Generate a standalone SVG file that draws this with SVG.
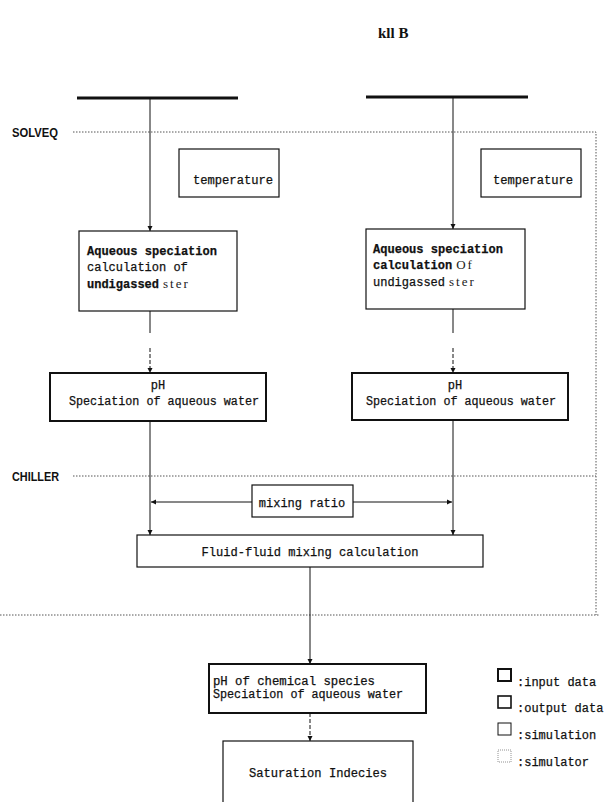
<svg xmlns="http://www.w3.org/2000/svg" width="604" height="802" viewBox="0 0 604 802">
<defs>
<marker id="ah" markerWidth="6" markerHeight="6" refX="5" refY="3" orient="auto" markerUnits="userSpaceOnUse">
<path d="M0,0.5 L5,3 L0,5.5 Z" fill="#111"/>
</marker>
</defs>
<style>
.t{font-family:"Liberation Mono","DejaVu Sans Mono",monospace;font-size:12px;fill:#111;stroke:#111;stroke-width:0.25}
.b{font-family:"Liberation Sans","DejaVu Sans",sans-serif;font-weight:bold;font-size:12px;fill:#111}
.s{font-family:"Liberation Serif","DejaVu Serif",serif;font-size:13px;fill:#222;stroke:none;letter-spacing:2px}
.box{fill:none;stroke:#111;stroke-width:1.2}
.thick{fill:none;stroke:#111;stroke-width:2}
.dot{fill:none;stroke:#555;stroke-width:1;stroke-dasharray:1.5 1.5}
.ln{fill:none;stroke:#111;stroke-width:1}
.bar{stroke:#111;stroke-width:3}
</style>
<text x="378" y="38" style="font-family:'Liberation Serif',serif;font-weight:bold;font-size:15px;fill:#111">kll B</text>
<g id="simulators">
<text class="b" x="12" y="137" textLength="46" lengthAdjust="spacingAndGlyphs">SOLVEQ</text>
<text class="b" x="12" y="481" textLength="47" lengthAdjust="spacingAndGlyphs">CHILLER</text>
<path class="dot" d="M73,132 H596 V615 M73,476 H596 M0,615 H600"/>
</g>
<g id="input-left">
<line class="bar" x1="77" y1="98" x2="238" y2="98"/>
</g>
<g id="input-right">
<line class="bar" x1="366" y1="97" x2="528" y2="97"/>
</g>
<g id="temp-left">
<rect class="box" x="179" y="149" width="100" height="48"/>
<text class="t" x="193" y="184" textLength="80" lengthAdjust="spacingAndGlyphs">temperature</text>
</g>
<g id="temp-right">
<rect class="box" x="481" y="149" width="100" height="48"/>
<text class="t" x="493" y="184" textLength="80" lengthAdjust="spacingAndGlyphs">temperature</text>
</g>
<g id="aq-left">
<rect class="box" x="79" y="231" width="158" height="80"/>
<text class="t" x="87" y="255" font-weight="bold" textLength="130" lengthAdjust="spacingAndGlyphs">Aqueous speciation</text>
<text class="t" x="87" y="271">calculation of</text>
<text class="t" x="87" y="288"><tspan font-weight="bold">undigassed</tspan><tspan class="s" dx="4">ster</tspan></text>
</g>
<g id="aq-right">
<rect class="box" x="366" y="229" width="159" height="80"/>
<text class="t" x="373" y="253" font-weight="bold" textLength="130" lengthAdjust="spacingAndGlyphs">Aqueous speciation</text>
<text class="t" x="373" y="269"><tspan font-weight="bold">calculation</tspan><tspan class="s" dx="4" letter-spacing="0">Of</tspan></text>
<text class="t" x="373" y="286">undigassed<tspan class="s" dx="4">ster</tspan></text>
</g>
<g id="ph-left">
<rect class="thick" x="50" y="373" width="216" height="48"/>
<text class="t" x="158" y="389" text-anchor="middle">pH</text>
<text class="t" x="69" y="405" textLength="190" lengthAdjust="spacingAndGlyphs">Speciation of aqueous water</text>
</g>
<g id="ph-right">
<rect class="thick" x="352" y="373" width="216" height="47"/>
<text class="t" x="455" y="389" text-anchor="middle">pH</text>
<text class="t" x="366" y="405" textLength="190" lengthAdjust="spacingAndGlyphs">Speciation of aqueous water</text>
</g>
<g id="mixing-ratio">
<rect class="box" x="252" y="485" width="101" height="32"/>
<text class="t" x="302" y="507" text-anchor="middle">mixing ratio</text>
</g>
<g id="fluid-mixing">
<rect class="box" x="137" y="535" width="346" height="32"/>
<text class="t" x="310" y="556" text-anchor="middle" textLength="217" lengthAdjust="spacingAndGlyphs">Fluid-fluid mixing calculation</text>
</g>
<g id="ph-chem">
<rect class="thick" x="209" y="664" width="217" height="49" stroke-width="1.5"/>
<text class="t" x="213" y="685" textLength="162" lengthAdjust="spacingAndGlyphs">pH of chemical species</text>
<text class="t" x="213" y="698" textLength="190" lengthAdjust="spacingAndGlyphs">Speciation of aqueous water</text>
</g>
<g id="saturation">
<rect class="box" x="223" y="741" width="190" height="70"/>
<text class="t" x="318" y="777" text-anchor="middle" textLength="138" lengthAdjust="spacingAndGlyphs">Saturation Indecies</text>
</g>
<g id="legend">
<path d="M498,669 H511 V681 H498 Z" fill="none" stroke="#111" stroke-width="2"/>
<text class="t" x="517" y="686">:input data</text>
<rect x="498" y="696" width="13" height="12" fill="none" stroke="#111" stroke-width="1.6"/>
<text class="t" x="517" y="712">:output data</text>
<rect x="498" y="723" width="13" height="12" fill="none" stroke="#111" stroke-width="1"/>
<text class="t" x="517" y="739">:simulation</text>
<rect x="498" y="750" width="13" height="12" fill="none" stroke="#777" stroke-width="0.8" stroke-dasharray="1 1"/>
<text class="t" x="517" y="766">:simulator</text>
</g>
<g id="connectors">
<line class="ln" x1="150" y1="98" x2="150" y2="231" marker-end="url(#ah)"/>
<line class="ln" x1="453" y1="97" x2="453" y2="229" marker-end="url(#ah)"/>
<line class="ln" x1="150" y1="311" x2="150" y2="333"/>
<line class="ln" x1="150" y1="348" x2="150" y2="373" stroke-dasharray="4 2" marker-end="url(#ah)"/>
<line class="ln" x1="453" y1="309" x2="453" y2="333"/>
<line class="ln" x1="453" y1="348" x2="453" y2="373" stroke-dasharray="4 2" marker-end="url(#ah)"/>
<line class="ln" x1="150" y1="421" x2="150" y2="535" marker-end="url(#ah)"/>
<line class="ln" x1="453" y1="420" x2="453" y2="535" marker-end="url(#ah)"/>
<line class="ln" x1="252" y1="502" x2="151" y2="502" marker-end="url(#ah)"/>
<line class="ln" x1="353" y1="502" x2="452" y2="502" marker-end="url(#ah)"/>
<line class="ln" x1="310" y1="567" x2="310" y2="664" marker-end="url(#ah)"/>
<line class="ln" x1="310" y1="713" x2="310" y2="741" stroke-dasharray="4 2" marker-end="url(#ah)"/>
</g>
</svg>
